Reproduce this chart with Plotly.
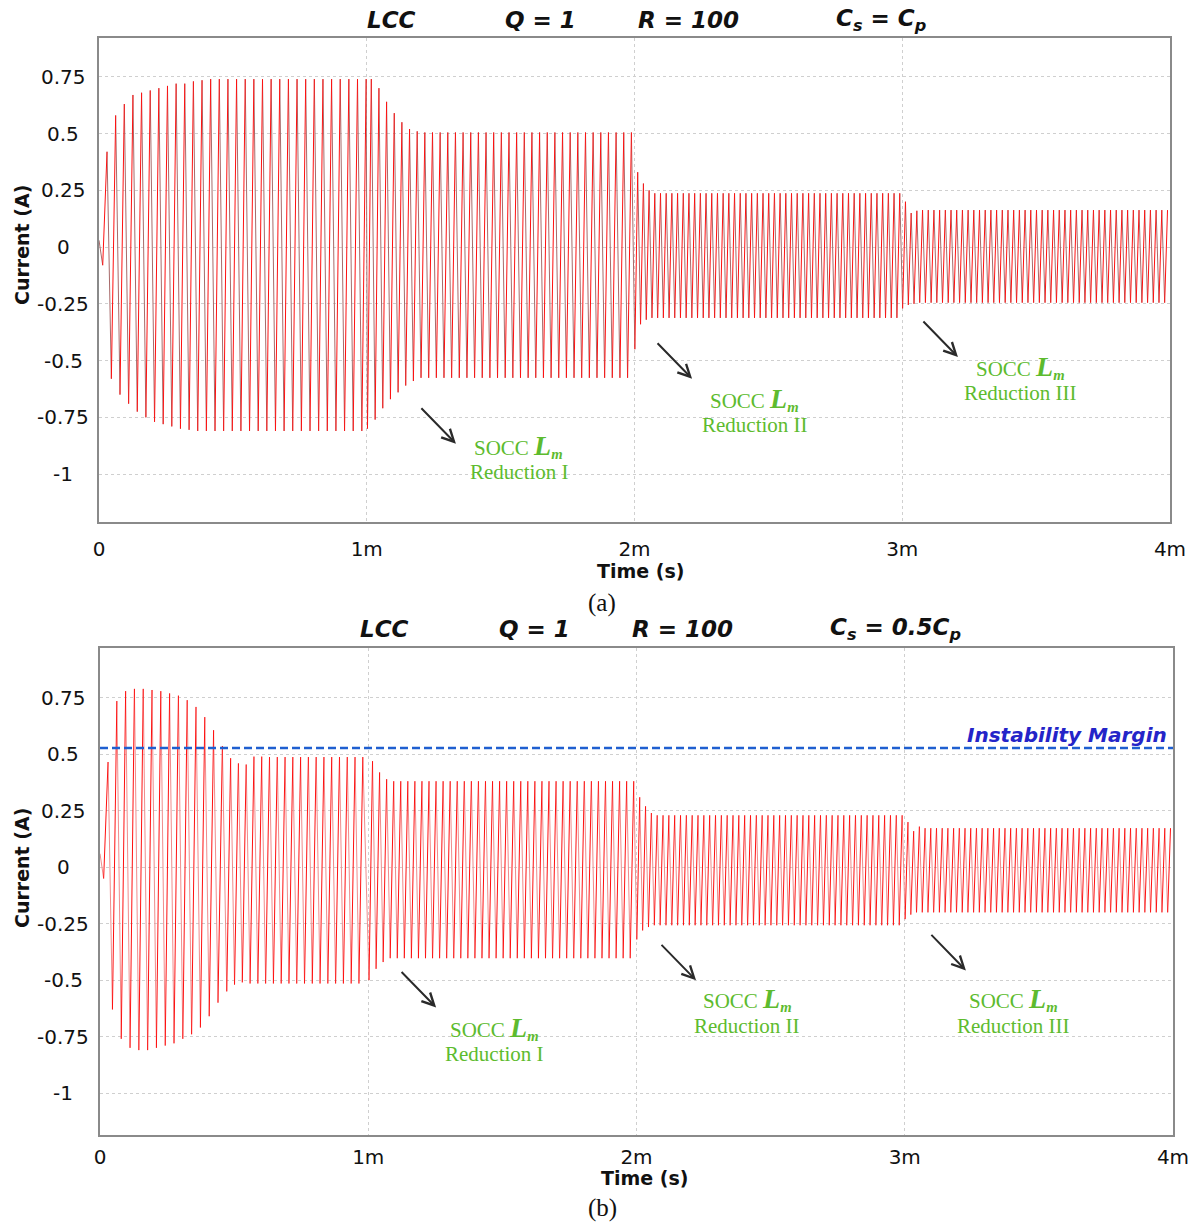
import plotly.graph_objects as go

# Canvas size in pixels
W, H = 1194, 1225

# Shared tick definitions
time_ticks_s = [0.0, 1e-3, 2e-3, 3e-3, 4e-3]
time_tick_text = ["0", "1m", "2m", "3m", "4m"]
current_ticks = [-1.0, -0.75, -0.5, -0.25, 0.0, 0.25, 0.5, 0.75]
current_tick_text = ["-1", "-0.75", "-0.5", "-0.25", "0", "0.25", "0.5", "0.75"]

# ---------------- Panel (a): LCC, Q = 1, R = 100, Cs = Cp ----------------
a_seg_start_ms = [0.0, 1.0, 2.0, 3.0]
a_seg_end_ms = [1.0, 2.0, 3.0, 4.0]
a_freq_khz = [31.0, 35.0, 47.0, 47.0]
a_first_peak_ms = [0.030, 1.017, 2.012, 3.012]
a_initial_a = 0.03
# positive peaks (A): start-up / transition cycles, then steady-state level
a_pos_transient = [
    [0.42, 0.58, 0.63, 0.67, 0.68, 0.69, 0.70, 0.71, 0.72, 0.72, 0.73, 0.735],
    [0.74, 0.70, 0.64, 0.59, 0.55, 0.52, 0.51],
    [0.33, 0.28, 0.25],
    [0.20, 0.15, 0.16],
]
a_pos_steady = [0.74, 0.505, 0.237, 0.163]
# negative peaks (A)
a_neg_transient = [
    [-0.08, -0.58, -0.65, -0.69, -0.725, -0.75, -0.77, -0.78, -0.79, -0.80, -0.805],
    [-0.80, -0.76, -0.71, -0.67, -0.64, -0.61, -0.59],
    [-0.45, -0.34, -0.32],
    [-0.27, -0.255, -0.25],
]
a_neg_steady = [-0.81, -0.576, -0.312, -0.245]

# ---------------- Panel (b): LCC, Q = 1, R = 100, Cs = 0.5Cp ----------------
b_seg_start_ms = [0.0, 0.47, 1.0, 2.0, 3.0]
b_seg_end_ms = [0.47, 1.0, 2.0, 3.0, 4.0]
b_freq_khz = [30.5, 34.5, 38.0, 46.0, 47.0]
b_first_peak_ms = [0.030, 0.487, 1.016, 2.012, 3.012]
b_initial_a = 0.06
b_pos_transient = [
    [0.466, 0.736, 0.78, 0.79, 0.79, 0.785, 0.78, 0.77, 0.76, 0.74, 0.71, 0.665, 0.607, 0.537],
    [0.483, 0.46, 0.455, 0.49, 0.49],
    [0.47, 0.42, 0.39],
    [0.31, 0.27, 0.24],
    [0.20, 0.16, 0.18],
]
b_pos_steady = [0.79, 0.488, 0.381, 0.23, 0.173]
b_neg_transient = [
    [-0.05, -0.63, -0.76, -0.80, -0.81, -0.81, -0.80, -0.79, -0.78, -0.76, -0.74, -0.71, -0.66, -0.60],
    [-0.55, -0.52, -0.51],
    [-0.50, -0.45, -0.42],
    [-0.32, -0.28, -0.265],
    [-0.23, -0.21],
]
b_neg_steady = [-0.81, -0.515, -0.403, -0.257, -0.20]
b_instability_margin = 0.528

# Annotation anchors: (time ms, current A) of arrow heads and label centres
a_arrow_heads = [(1.333, -0.866), (2.215, -0.580), (3.208, -0.484)]
a_label_pos = [(1.565, -0.875), (2.450, -0.668), (3.440, -0.527)]
a_label_sub_pos = [(1.569, -0.989), (2.450, -0.782), (3.443, -0.642)]
b_arrow_heads = [(1.253, -0.621), (2.222, -0.501), (3.228, -0.457)]
b_label_pos = [(1.472, -0.714), (2.412, -0.585), (3.404, -0.585)]
b_label_sub_pos = [(1.472, -0.829), (2.412, -0.705), (3.404, -0.705)]
reduction_names = ["Reduction I", "Reduction II", "Reduction III"]


def build_waveform(start_ms, end_ms, freq_khz, first_peak_ms,
                   pos_tr, pos_ss, neg_tr, neg_ss, initial):
    """Chain the per-cycle negative/positive peaks of each segment."""
    t, i = [0.0], [initial]
    nseg = len(start_ms)
    for s in range(nseg):
        period = 1.0 / freq_khz[s]
        last = s == nseg - 1
        k = 0
        while True:
            tp = first_peak_ms[s] + k * period
            tt = tp - period / 2.0
            if tt >= end_ms[s] or (not last and tp > end_ms[s]):
                break
            t.append(tt)
            i.append(neg_tr[s][k] if k < len(neg_tr[s]) else neg_ss[s])
            t.append(tp)
            i.append(pos_tr[s][k] if k < len(pos_tr[s]) else pos_ss[s])
            k += 1
    return [v * 1e-3 for v in t], i


def split_strokes(t, i):
    """Separate rising and falling strokes so they can be tinted differently."""
    up_t, up_i, dn_t, dn_i = [], [], [], []
    for k in range(len(t) - 1):
        if i[k + 1] >= i[k]:
            up_t += [t[k], t[k + 1], None]
            up_i += [i[k], i[k + 1], None]
        else:
            dn_t += [t[k], t[k + 1], None]
            dn_i += [i[k], i[k + 1], None]
    return up_t, up_i, dn_t, dn_i


fig = go.Figure()

panels = [
    dict(wave=build_waveform(a_seg_start_ms, a_seg_end_ms, a_freq_khz, a_first_peak_ms,
                             a_pos_transient, a_pos_steady, a_neg_transient, a_neg_steady,
                             a_initial_a),
         xa="x", ya="y", fall_color="#a86a6a"),
    dict(wave=build_waveform(b_seg_start_ms, b_seg_end_ms, b_freq_khz, b_first_peak_ms,
                             b_pos_transient, b_pos_steady, b_neg_transient, b_neg_steady,
                             b_initial_a),
         xa="x2", ya="y2", fall_color="#f08c8c"),
]

for p in panels:
    up_t, up_i, dn_t, dn_i = split_strokes(*p["wave"])
    fig.add_trace(go.Scatter(x=dn_t, y=dn_i, mode="lines", xaxis=p["xa"], yaxis=p["ya"],
                             line=dict(color=p["fall_color"], width=1),
                             showlegend=False, hoverinfo="skip"))
    fig.add_trace(go.Scatter(x=up_t, y=up_i, mode="lines", xaxis=p["xa"], yaxis=p["ya"],
                             line=dict(color="#ff1010", width=1),
                             showlegend=False, hoverinfo="skip"))

# Instability margin in panel (b)
fig.add_trace(go.Scatter(x=[0.0, 4e-3], y=[b_instability_margin] * 2, mode="lines",
                         xaxis="x2", yaxis="y2",
                         line=dict(color="#1f5fd0", width=2.5, dash="8px,4px"),
                         showlegend=False, hoverinfo="skip"))

FONT = "DejaVu Sans"
SERIF = "Liberation Serif"
GREEN = "#5dbb2e"
TICK_SIZE = 20


def x_axis(domain, anchor, ticklen):
    return dict(domain=domain, anchor=anchor, range=[0, 4e-3], automargin=False,
                tickmode="array", tickvals=time_ticks_s, ticktext=time_tick_text,
                tickfont=dict(family=FONT, size=TICK_SIZE, color="#111"),
                ticks="outside", ticklen=ticklen, tickcolor="rgba(0,0,0,0)",
                showgrid=True, gridcolor="#cfcfcf", griddash="dot", gridwidth=1,
                zeroline=False, showline=True, mirror=True,
                linecolor="#8a8a8a", linewidth=1.5)


def y_axis(domain, anchor, rng):
    return dict(domain=domain, anchor=anchor, range=rng, automargin=False,
                tickmode="array", tickvals=current_ticks, showticklabels=False,
                ticks="", showgrid=True, gridcolor="#cfcfcf", griddash="dot", gridwidth=1,
                zeroline=False, showline=True, mirror=True,
                linecolor="#8a8a8a", linewidth=1.5)


fig.update_layout(
    width=W, height=H, margin=dict(l=0, r=0, t=0, b=0, autoexpand=False),
    paper_bgcolor="white", plot_bgcolor="white", showlegend=False,
    xaxis=x_axis([99 / W, 1170 / W], "y", 8),
    yaxis=y_axis([1 - 522 / H, 1 - 38 / H], "x", [-1.211, 0.921]),
    xaxis2=x_axis([100 / W, 1173 / W], "y2", 3),
    yaxis2=y_axis([1 - 1135 / H, 1 - 648 / H], "x2", [-1.186, 0.971]),
)

ann = []


def paper_text(xp, yp, text, size, bold=False, italic=False, family=FONT,
               color="#111", xanchor="center", angle=0):
    ann.append(dict(xref="paper", yref="paper", x=xp / W, y=1 - yp / H, text=text,
                    showarrow=False, xanchor=xanchor, yanchor="middle", textangle=angle,
                    font=dict(family=family, size=size, color=color,
                              weight="bold" if bold else "normal",
                              style="italic" if italic else "normal")))


# Panel headers
for x0, txt in [(365, "LCC"), (503, "Q = 1"), (636, "R = 100"),
                (834, "C<sub>s</sub> = C<sub>p</sub>")]:
    paper_text(x0, 20, txt, 23, bold=True, italic=True, xanchor="left")
for x0, txt in [(358, "LCC"), (497, "Q = 1"), (630, "R = 100"),
                (828, "C<sub>s</sub> = 0.5C<sub>p</sub>")]:
    paper_text(x0, 629, txt, 23, bold=True, italic=True, xanchor="left")

# Axis titles and captions
paper_text(640, 571, "Time (s)", 19, bold=True)
paper_text(644, 1178, "Time (s)", 19, bold=True)
paper_text(22, 245, "Current (A)", 19, bold=True, angle=-90)
paper_text(22, 868, "Current (A)", 19, bold=True, angle=-90)
paper_text(602, 603, "(a)", 25, family=SERIF)
paper_text(602, 1208, "(b)", 25, family=SERIF)

# Current tick labels (centred in the left gutter)
for yref in ["y", "y2"]:
    for v, lab in zip(current_ticks, current_tick_text):
        ann.append(dict(xref="paper", yref=yref, x=63 / W, y=v, text=lab, showarrow=False,
                        xanchor="center", yanchor="middle",
                        font=dict(family=FONT, size=TICK_SIZE, color="#111")))

# SOCC Lm reduction arrows and labels
lm_text = ("SOCC <span style='font-size:28px;font-weight:bold;font-style:italic'>L</span>"
           "<sub><i><b>m</b></i></sub>")
for xa, ya, heads, lp, sp in [("x", "y", a_arrow_heads, a_label_pos, a_label_sub_pos),
                              ("x2", "y2", b_arrow_heads, b_label_pos, b_label_sub_pos)]:
    for (ht, hv), (lt, lv), (st, sv), name in zip(heads, lp, sp, reduction_names):
        ann.append(dict(xref=xa, yref=ya, x=ht * 1e-3, y=hv, ax=-36, ay=-37,
                        showarrow=True, arrowhead=5, arrowsize=1.2, arrowwidth=2,
                        arrowcolor="#2a2a2a", text=""))
        ann.append(dict(xref=xa, yref=ya, x=lt * 1e-3, y=lv, text=lm_text, showarrow=False,
                        xanchor="center", yanchor="middle",
                        font=dict(family=SERIF, size=21, color=GREEN)))
        ann.append(dict(xref=xa, yref=ya, x=st * 1e-3, y=sv, text=name, showarrow=False,
                        xanchor="center", yanchor="middle",
                        font=dict(family=SERIF, size=21, color=GREEN)))

# Instability margin label
ann.append(dict(xref="x2", yref="y2", x=3.985e-3, y=0.585, text="Instability Margin",
                showarrow=False, xanchor="right", yanchor="middle",
                font=dict(family=FONT, size=20, color="#2424c8", weight="bold",
                          style="italic")))

fig.update_layout(annotations=ann)
fig.write_html("out.html")
